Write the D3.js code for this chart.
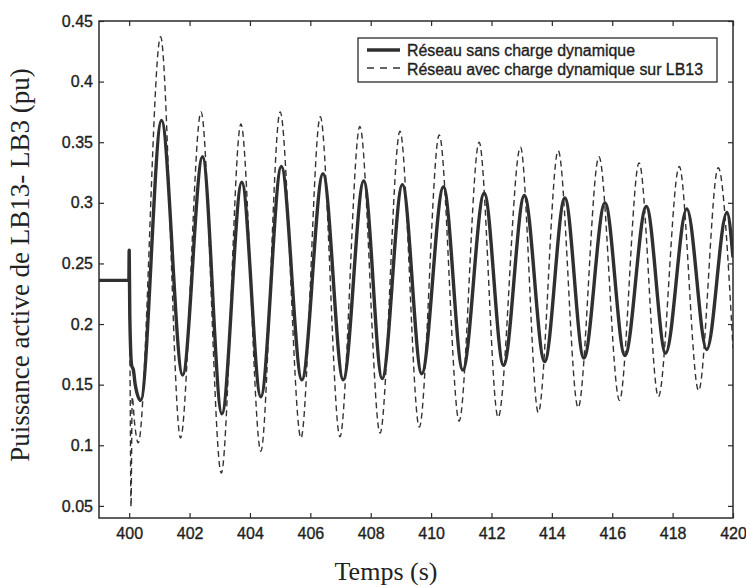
<!DOCTYPE html>
<html>
<head>
<meta charset="utf-8">
<script src="https://cdn.jsdelivr.net/npm/d3@7"></script>
<style>
  html, body { margin: 0; padding: 0; background: #fff; }
  svg { display: block; }
</style>
</head>
<body>
<svg id="chart" width="746" height="585"></svg>
<script>
// ---- data ----
const seriesNames = ["Réseau sans charge dynamique", "Réseau avec charge dynamique sur LB13"];

const timeSolid = [399, 399.99, 400.0, 400.02, 400.08, 400.14, 400.2, 400.38,
  401.07, 401.77, 402.43, 403.07, 403.73, 404.36, 405.04, 405.72, 406.42, 407.09,
  407.77, 408.38, 409.05, 409.69, 410.41, 411.05, 411.76, 412.40, 413.09, 413.76,
  414.43, 415.06, 415.76, 416.42, 417.13, 417.77, 418.47, 419.13, 419.80, 420];
const powerSolid = [0.236, 0.236, 0.261, 0.207, 0.166, 0.162, 0.150, 0.137,
  0.368, 0.158, 0.338, 0.126, 0.317, 0.140, 0.330, 0.154, 0.324, 0.154,
  0.318, 0.155, 0.315, 0.159, 0.313, 0.162, 0.308, 0.166, 0.306, 0.169,
  0.304, 0.172, 0.300, 0.174, 0.297, 0.176, 0.295, 0.179, 0.292, 0.255];

const timeDashed = [399, 399.99, 400.0, 400.03, 400.06, 400.1, 400.18, 400.3,
  401.04, 401.70, 402.38, 403.05, 403.70, 404.36, 405.0, 405.69, 406.33, 406.98,
  407.64, 408.31, 408.97, 409.61, 410.27, 410.93, 411.59, 412.22, 412.96, 413.55,
  414.21, 414.87, 415.56, 416.24, 416.89, 417.53, 418.22, 418.86, 419.51, 420];
const powerDashed = [0.236, 0.236, 0.236, 0.155, 0.049, 0.140, 0.118, 0.102,
  0.437, 0.106, 0.375, 0.077, 0.365, 0.095, 0.375, 0.106, 0.371, 0.107,
  0.363, 0.110, 0.359, 0.115, 0.356, 0.120, 0.350, 0.123, 0.346, 0.127,
  0.343, 0.131, 0.338, 0.137, 0.333, 0.140, 0.330, 0.145, 0.329, 0.180];

const xTicks = [400, 402, 404, 406, 408, 410, 412, 414, 416, 418, 420];
const yTicks = [0.05, 0.1, 0.15, 0.2, 0.25, 0.3, 0.35, 0.4, 0.45];
const yTickLabels = ["0.05", "0.1", "0.15", "0.2", "0.25", "0.3", "0.35", "0.4", "0.45"];
const xTitle = "Temps (s)";
const yTitle = "Puissance active de LB13- LB3 (pu)";

// ---- layout ----
const L = 99, R = 733, T = 21, B = 518;
const ink = "#2b2b2b";
const svg = d3.select("#chart");

const x = d3.scaleLinear().domain([399, 420]).range([L, R]);
const y = d3.scaleLinear().domain([0.04, 0.45]).range([B, T]);

svg.append("defs").append("clipPath").attr("id", "clip")
  .append("rect").attr("x", L).attr("y", T).attr("width", R - L).attr("height", B - T);

const tickFont = "'Liberation Sans', Arial, Helvetica, sans-serif";

// axes
const gx = svg.append("g").attr("transform", `translate(0,${B})`)
  .call(d3.axisBottom(x).tickValues(xTicks).tickFormat(d3.format("d")).tickSize(-5).tickPadding(10));
const gy = svg.append("g").attr("transform", `translate(${L},0)`)
  .call(d3.axisLeft(y).tickValues(yTicks).tickFormat((d, i) => yTickLabels[i]).tickSize(-5).tickPadding(6));
const gxt = svg.append("g").attr("transform", `translate(0,${T})`)
  .call(d3.axisTop(x).tickValues(xTicks).tickFormat("").tickSize(-5));
const gyr = svg.append("g").attr("transform", `translate(${R},0)`)
  .call(d3.axisRight(y).tickValues(yTicks).tickFormat("").tickSize(-5));

[gx, gy, gxt, gyr].forEach(g => {
  g.select(".domain").remove();
  g.selectAll(".tick line").attr("stroke", ink).attr("stroke-width", 1.2);
  g.selectAll(".tick text").attr("fill", "#1e1e1e").attr("stroke", "#1e1e1e").attr("stroke-width", 0.35)
    .style("font-family", tickFont).style("font-size", "16px");
});

// lines
const lineGen = d3.line().x(d => x(d[0])).y(d => y(d[1])).curve(d3.curveMonotoneX);
const solidData = timeSolid.map((t, i) => [t, powerSolid[i]]);
const dashedData = timeDashed.map((t, i) => [t, powerDashed[i]]);

const plot = svg.append("g").attr("clip-path", "url(#clip)");
plot.append("path").datum(dashedData).attr("d", lineGen)
  .attr("fill", "none").attr("stroke", "#333").attr("stroke-width", 1.4)
  .attr("stroke-dasharray", "6,4");
plot.append("path").datum(solidData).attr("d", lineGen)
  .attr("fill", "none").attr("stroke", "#303030").attr("stroke-width", 3.4)
  .attr("stroke-linejoin", "round");

// frame
svg.append("rect").attr("x", L).attr("y", T).attr("width", R - L).attr("height", B - T)
  .attr("fill", "none").attr("stroke", ink).attr("stroke-width", 1.5);

// legend
const lg = svg.append("g");
lg.append("rect").attr("x", 358).attr("y", 38).attr("width", 359).attr("height", 44)
  .attr("fill", "#fff").attr("stroke", ink).attr("stroke-width", 1.3);
lg.append("line").attr("x1", 367).attr("x2", 400).attr("y1", 50).attr("y2", 50)
  .attr("stroke", "#303030").attr("stroke-width", 3.4);
lg.append("line").attr("x1", 367).attr("x2", 400).attr("y1", 68).attr("y2", 68)
  .attr("stroke", "#333").attr("stroke-width", 1.4).attr("stroke-dasharray", "7,6");
const legendWidths = [228, 296];
lg.selectAll("text.leg").data(seriesNames).join("text").attr("class", "leg")
  .attr("x", 407).attr("y", (d, i) => 56 + i * 18.5)
  .attr("textLength", (d, i) => legendWidths[i]).attr("lengthAdjust", "spacingAndGlyphs")
  .attr("fill", "#1e1e1e").attr("stroke", "#1e1e1e").attr("stroke-width", 0.35)
  .style("font-family", tickFont).style("font-size", "16px")
  .text(d => d);

// titles
svg.append("text").attr("x", 386).attr("y", 580).attr("text-anchor", "middle")
  .style("font-family", "'Liberation Serif', 'Times New Roman', serif").style("font-size", "26px")
  .attr("fill", "#222").text(xTitle);
svg.append("text").attr("transform", "translate(29,265) rotate(-90)").attr("text-anchor", "middle")
  .style("font-family", "'Liberation Serif', 'Times New Roman', serif").style("font-size", "27px")
  .attr("fill", "#222").text(yTitle);
</script>
</body>
</html>
